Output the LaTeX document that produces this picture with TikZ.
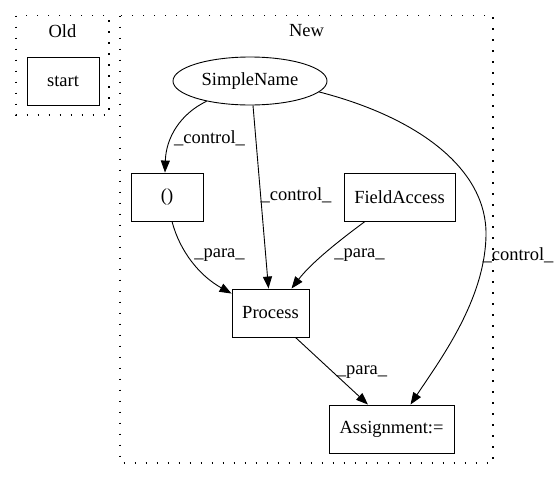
\documentclass[tikz,border=0pt]{standalone}
\usepackage{fontspec}
\setmainfont{Liberation Serif}
\usetikzlibrary{arrows.meta,shapes.geometric}
\begin{document}
\begin{tikzpicture}[x=1pt,y=-1pt,
  font=\fontsize{18.5}{21}\selectfont,
  box/.style={draw,line width=0.9pt,rectangle,inner sep=0pt,minimum height=48pt},
  cluster/.style={draw,line width=1.2pt,dash pattern=on 1.5pt off 9.5pt},
  edge/.style={line width=0.9pt,-{Triangle[length=12pt,width=9pt]}},
  lbl/.style={inner sep=0pt,anchor=center}]
\useasboundingbox (0,0) rectangle (559,480);
% clusters
\draw[cluster] (16,15.5) rectangle (109,115);
\draw[cluster] (120,15.5) rectangle (493,463);
\node[lbl] (oldlbl) at (62.5,31) {Old};
\node[lbl] (newlbl) at (306.5,31) {New};
% nodes
\node[box,minimum width=72pt] (start) at (63,81) {start};
\node[draw,line width=0.9pt,ellipse,inner sep=0pt,minimum width=154pt,minimum height=48pt] (sn) at (250,81) {SimpleName};
\node[box,minimum width=72pt] (par) at (167,197) {()};
\node[box,minimum width=111pt] (fa) at (399.5,197) {FieldAccess};
\node[box,minimum width=77pt] (proc) at (270.5,313) {Process};
\node[box,minimum width=125pt] (asg) at (391.5,429) {Assignment:=};
% edges
\draw[edge] (sn.205) .. controls (180,114) and (166,138) .. ([xshift=-2pt]par.north);
\draw[edge] ([xshift=3pt]sn.south) -- ([xshift=-2pt]proc.north);
\draw[edge] (sn.-9) .. controls (420,118) and (487,170) .. (486,235)
  .. controls (485,300) and (440,360) .. ([xshift=19pt]asg.north);
\draw[edge] ([xshift=5pt]par.south) .. controls (180,252) and (200,276) .. ([yshift=-5pt]proc.north west);
\draw[edge] ([xshift=-34.5pt]fa.south) .. controls (340,240) and (312,262) .. ([xshift=21pt]proc.north);
\draw[edge] ([xshift=25pt]proc.south) -- ([xshift=-23.5pt]asg.north);
% labels
\node[lbl] (l1) at (209.5,138) {\_control\_};
\node[lbl] (l2) at (296,195) {\_control\_};
\node[lbl] (l3) at (518,255) {\_control\_};
\node[lbl] (l4) at (219.5,255) {\_para\_};
\node[lbl] (l5) at (359.5,255) {\_para\_};
\node[lbl] (l6) at (362,372) {\_para\_};
\end{tikzpicture}
\end{document}
